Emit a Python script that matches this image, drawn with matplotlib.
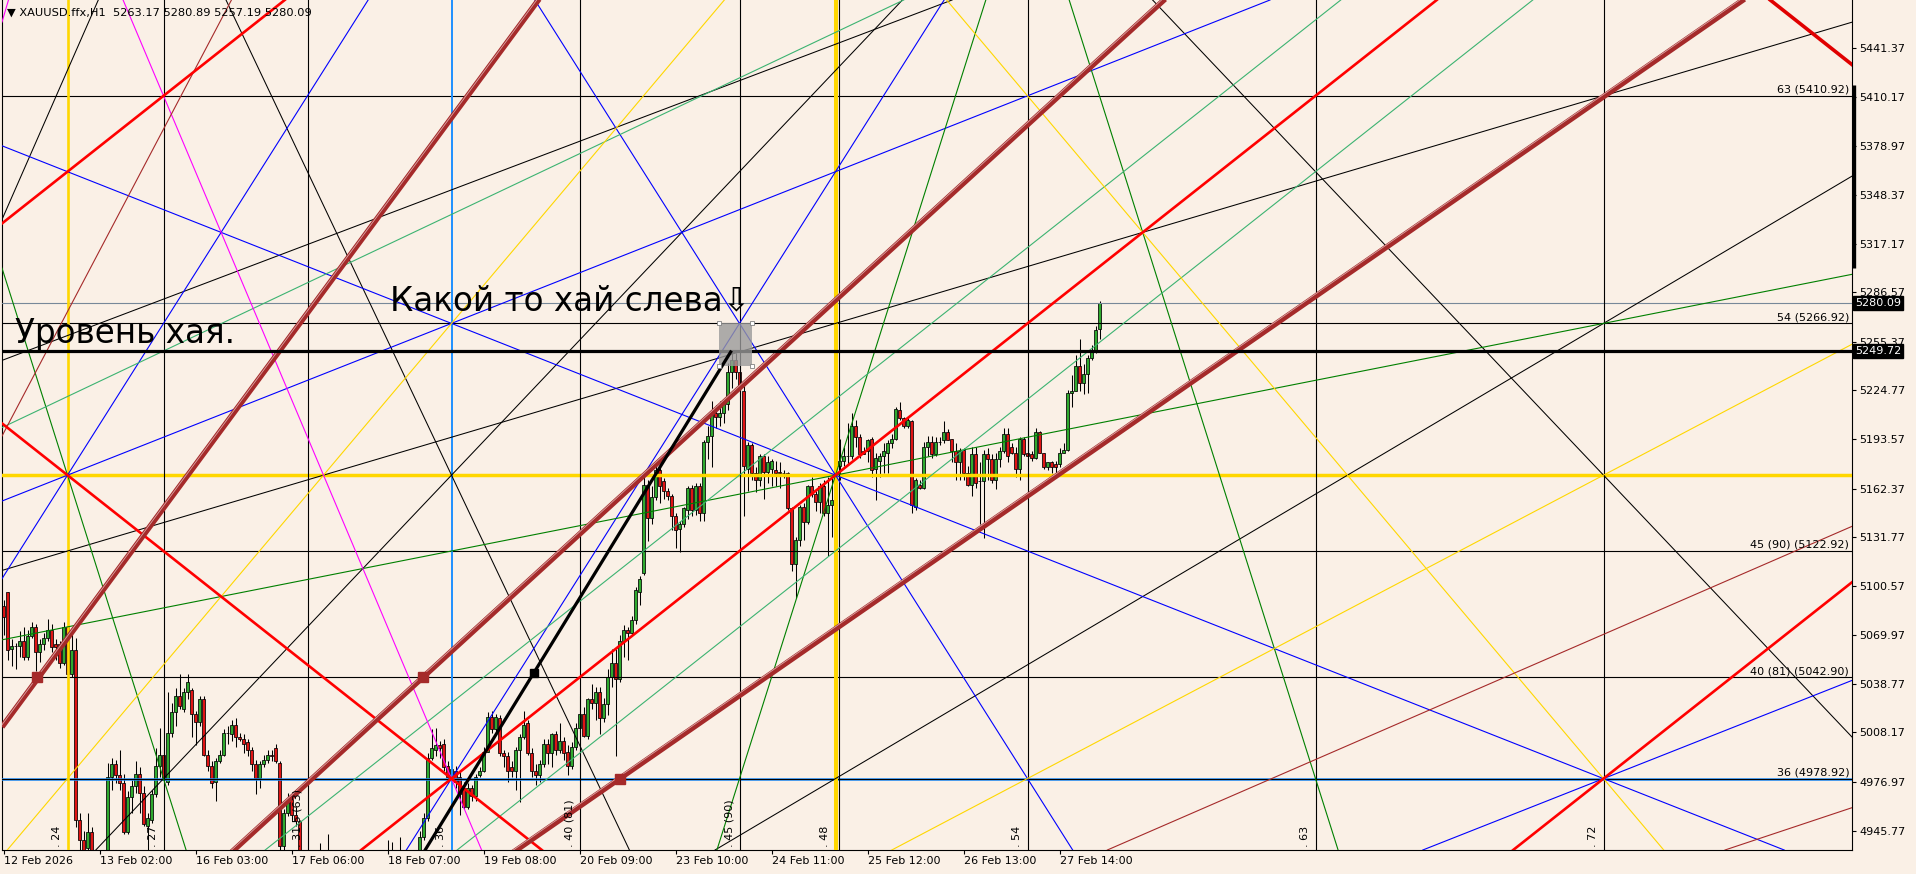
import matplotlib
matplotlib.use("Agg")
import matplotlib.pyplot as plt
from matplotlib.transforms import blended_transform_factory, offset_copy
from matplotlib.patches import Rectangle
import numpy as np

BG = "#FAF0E6"

# ---------------- candle data (H1 bars, index 0 = 12 Feb 2026) ----------------
opens = [
 5088,5097,5061,5063,5063,5066,5056,5069,5075,5059,
 5064,5068,5073,5064,5064,5052,5075,5045,5060,4953,
 4940,4935,4945,4928,4912,4918,4925,4980,4988,4981,
 4976,4945,4967,4974,4982,4970,4949,4953,4969,4987,
 4994,4977,5008,5021,5031,5023,5034,5035,5020,5015,
 5029,4994,4987,4977,4990,4994,5008,5007,5013,5005,
 5004,5002,4997,4988,4979,4988,4991,4994,4998,4989,
 4936,4957,4966,4956,4952,4925,4910,4915,4920,4926,
 4918,4922,4928,4900,4860,4880,4892,4885,4890,4884,
 4880,4889,4900,4908,4904,4916,4920,4925,4918,4922,
 4928,4915,4920,4924,4926,4942,4954,4992,4997,5000,
 5001,4987,4980,4984,4980,4973,4961,4973,4968,4981,
 4984,4996,5018,5010,5017,4995,4993,4986,4984,4997,
 5005,5014,4995,4984,4981,4988,5001,4995,5007,4997,
 5003,4996,4987,4999,5011,5020,5006,5029,5027,5034,
 5017,5026,5043,5052,5042,5066,5073,5071,5079,5097,
 5109,5165,5144,5157,5174,5167,5161,5158,5145,5137,
 5140,5149,5163,5149,5164,5147,5192,5196,5210,5208,
 5210,5216,5236,5244,5236,5224,5175,5190,5172,5168,
 5183,5173,5175,5174,5173,5172,5172,5150,5115,5130,
 5151,5141,5164,5159,5154,5164,5147,5152,5152,5177,
 5180,5183,5183,5202,5195,5186,5186,5194,5175,5180,
 5183,5185,5191,5194,5212,5207,5202,5205,5151,5165,
 5163,5189,5192,5184,5192,5193,5198,5194,5186,5179,
 5187,5172,5165,5184,5167,5167,5184,5181,5168,5181,
 5186,5197,5189,5185,5175,5194,5185,5184,5182,5198,
 5185,5176,5179,5178,5178,5185,5187,5223,5224,5240,
 5229,5235,5245,5250,5263.17]
highs = [
 5092,5097,5067,5065,5072,5075,5073,5078,5077,5067,
 5071,5080,5077,5067,5066,5078,5077,5074,5068,4957,
 4946,4957,4948,4931,4925,4930,4989,4992,4991,4997,
 4982,4971,4978,4990,4986,4974,4957,4972,4998,5011,
 4999,5034,5027,5036,5045,5036,5045,5036,5022,5031,
 5031,4997,4990,4992,4997,5010,5012,5016,5017,5008,
 5007,5004,4999,4991,4990,4994,4997,4997,5001,4990,
 4960,4970,4968,4961,4953,4931,4922,4928,4932,4938,
 4930,4944,4931,4905,4885,4900,4905,4898,4902,4895,
 4893,4905,4912,4918,4922,4928,4940,4939,4930,4942,
 4932,4926,4930,4931,4946,4957,4995,5010,5011,5003,
 5004,4990,4988,4987,4984,4977,4976,4975,4982,4986,
 4999,5021,5022,5020,5019,4997,4996,4990,4999,5007,
 5022,5016,4998,4988,4991,5004,5004,5008,5009,5014,
 5005,5000,5002,5014,5031,5024,5030,5039,5037,5037,
 5030,5048,5061,5061,5070,5076,5075,5082,5100,5107,
 5173,5168,5164,5177,5176,5169,5163,5159,5147,5142,
 5151,5164,5165,5166,5166,5193,5202,5218,5215,5218,
 5218,5242,5249.72,5248,5240,5231,5192,5191,5176,5184,
 5184,5183,5181,5180,5179,5174,5173,5151,5132,5152,
 5153,5165,5170,5161,5166,5168,5170,5169,5190,5194,
 5189,5204,5210,5206,5197,5189,5194,5195,5185,5185,
 5191,5193,5197,5214,5217,5208,5208,5206,5169,5168,
 5192,5196,5196,5195,5195,5205,5200,5194,5191,5188,
 5188,5177,5189,5189,5179,5187,5188,5184,5185,5189,
 5201,5201,5191,5189,5195,5195,5202,5186,5201,5199,
 5185,5179,5180,5180,5188,5191,5225,5234,5247,5257,
 5241,5247,5253,5265,5280.89]
lows = [
 5070,5054,5050,5048,5056,5054,5054,5068,5047,5053,
 5060,5066,5059,5054,5049,5051,5039,5043,4948,4930,
 4915,4925,4915,4905,4898,4910,4918,4972,4976,4972,
 4944,4944,4957,4970,4957,4949,4932,4951,4967,4980,
 4976,4975,5005,5012,5023,5021,5029,5005,5000,5012,
 4993,4984,4973,4965,4989,4993,5001,5003,4999,5003,
 4995,4993,4984,4969,4973,4986,4989,4990,4989,4925,
 4928,4955,4953,4949,4918,4905,4898,4908,4912,4915,
 4905,4915,4895,4841,4850,4872,4878,4872,4880,4870,
 4868,4882,4892,4898,4900,4908,4912,4915,4910,4916,
 4910,4905,4912,4915,4920,4940,4952,4991,4993,4992,
 4984,4977,4975,4973,4956,4960,4960,4965,4965,4980,
 4983,4996,5008,5008,4993,4986,4977,4980,4972,4964,
 5004,4994,4980,4975,4977,4986,4988,4986,4994,4995,
 4991,4981,4985,4997,5008,5005,5004,5023,5016,5007,
 5015,5019,5037,4993,5040,5056,5054,5070,5077,5089,
 5108,5129,5140,5155,5153,5156,5155,5136,5125,5122,
 5138,5143,5145,5146,5142,5142,5181,5176,5201,5202,
 5204,5212,5226,5232,5222,5145,5161,5168,5160,5164,
 5156,5166,5164,5164,5163,5169,5149,5110,5093,5126,
 5130,5140,5157,5148,5147,5145,5120,5132,5147,5168,
 5177,5178,5181,5189,5182,5184,5179,5170,5155,5170,
 5172,5172,5188,5193,5206,5201,5201,5147,5149,5162,
 5162,5183,5182,5183,5190,5191,5193,5179,5168,5168,
 5168,5164,5158,5163,5140,5131,5168,5166,5162,5176,
 5185,5179,5184,5170,5168,5183,5183,5180,5181,5185,
 5175,5174,5172,5169,5176,5185,5186,5214,5224,5224,
 5222,5223,5244,5248,5257.19]
closes = [
 5081,5060,5063,5063,5066,5056,5069,5075,5059,5064,
 5068,5073,5062,5062,5052,5075,5045,5060,4953,4940,
 4925,4945,4928,4912,4918,4925,4980,4988,4981,4976,
 4945,4967,4974,4982,4970,4950,4954,4969,4987,4994,
 4978,5008,5021,5031,5025,5034,5040,5020,5015,5029,
 4994,4987,4976,4990,4994,5008,5008,5013,5005,5004,
 5001,4997,4988,4979,4988,4991,4994,4993,4990,4936,
 4957,4966,4956,4952,4925,4910,4915,4920,4926,4918,
 4922,4928,4900,4860,4880,4892,4885,4890,4884,4880,
 4889,4900,4908,4904,4916,4920,4925,4918,4922,4928,
 4915,4920,4924,4926,4942,4954,4992,4998,5000,4998,
 4986,4980,4985,4977,4969,4961,4973,4968,4980,4984,
 4996,5018,5010,5018,4995,4993,4984,4984,4997,5005,
 5013,4995,4984,4981,4988,5001,4995,5007,4997,5003,
 4995,4987,4999,5011,5020,5006,5029,5027,5034,5017,
 5026,5043,5052,5042,5066,5073,5071,5079,5098,5105,
 5165,5144,5157,5174,5164,5161,5158,5145,5136,5140,
 5150,5163,5149,5164,5147,5192,5196,5210,5208,5210,
 5216,5236,5244,5236,5226,5177,5190,5172,5168,5183,
 5173,5179,5180,5172,5172,5172,5150,5115,5130,5151,
 5141,5164,5159,5154,5164,5147,5152,5155,5177,5180,
 5183,5183,5202,5195,5184,5184,5193,5174,5182,5183,
 5186,5191,5194,5213,5207,5202,5206,5152,5168,5163,
 5189,5192,5184,5192,5192,5198,5193,5186,5179,5186,
 5172,5165,5184,5166,5167,5184,5181,5168,5181,5186,
 5197,5183,5185,5175,5194,5184,5183,5182,5198,5185,
 5176,5179,5176,5176,5185,5187,5223,5224,5240,5229,
 5235,5245,5250,5263,5280.09]

# ---------------- axes labels ----------------
date_tick_bars = [0, 24, 48, 72, 96, 120, 144, 168, 192, 216, 240, 264]
date_labels = ["12 Feb 2026", "13 Feb 02:00", "16 Feb 03:00", "17 Feb 06:00",
               "18 Feb 07:00", "19 Feb 08:00", "20 Feb 09:00", "23 Feb 10:00",
               "24 Feb 11:00", "25 Feb 12:00", "26 Feb 13:00", "27 Feb 14:00"]
price_ticks = [5441.37, 5410.17, 5378.97, 5348.37, 5317.17, 5286.57, 5255.37,
               5224.77, 5193.57, 5162.37, 5131.77, 5100.57, 5069.97, 5038.77,
               5008.17, 4976.97, 4945.77]
header = "\u25BC XAUUSD.ffx,H1  5263.17 5280.89 5257.19 5280.09"

# ---------------- Gann grid objects ----------------
vline_bars = [16, 40, 76, 112, 144, 184, 208, 256, 328, 400]
vline_labels = ["24", "27", "31.5 (63)", "36", "40 (81)", "45 (90)", "48", "54", "63", "72"]
vline_colors = ["#FFD700", "black", "black", "#1E90FF", "black", "black", "#FFD700",
                "black", "black", "black"]
vline_widths = [1.9, 0.8, 0.8, 1.4, 0.8, 0.8, 2.9, 0.8, 0.8, 0.8]

hlevels = [5410.92, 5266.92, 5122.92, 5042.90, 4978.92]
hlevel_labels = ["63 (5410.92)", "54 (5266.92)", "45 (90) (5122.92)",
                 "40 (81) (5042.90)", "36 (4978.92)"]
yellow_level = 5170.92
high_level = 5249.72
bid_price = 5280.09

# diagonal lines: (anchor bar, anchor price, slope in price per bar)
red_lines = [(16, 5362.92, 2.0), (16, 5170.92, -2.0), (208, 5170.92, 2.0),
             (400, 4978.92, 2.0)]
red_top_line = (400, 5554.92, -2.0)
blue_lines = [(112, 5266.92, -1.0), (184, 5266.92, -4.0), (184, 5266.92, 4.0),
              (16, 5170.92, 4.0), (16, 5170.92, 1.0), (400, 4978.92, 1.0)]
black_lines = [(16, 5122.92, 0.75), (208, 4978.92, 1.5), (112, 5170.92, 2.667),
               (112, 5170.92, -5.333), (400, 5170.92, -2.667), (17.1, 5433.5, 5.77),
               (-0.2, 5243.7, 0.96)]
green_lines = [(16, 5170.92, -8.0), (208, 5170.92, 0.5), (208, 5170.92, 8.0),
               (304, 5170.92, -8.0)]
lightgreen_lines = [(208, 5218.92, 2.0), (208, 5122.92, 2.0), (24.6, 5231.0, 1.2)]
yellow_lines = [(16, 4978.92, 3.0), (400, 4978.92, -3.0), (400, 5170.92, 1.333)]
magenta_lines = [(112, 4978.92, -6.0), (0.6, 5466.0, 8.6)]
thinbrown_lines = [(56.6, 5469.7, 4.81), (462.1, 5138.5, 1.1), (462.1, 4960.5, 0.843)]
brown_lines = [(0, 5012.9, 3.43), (104.8, 5042.9, 2.313), (154, 4978.9, 1.754)]
brown_markers_bar = [8.3, 104.8, 154]
brown_markers_price = [5042.9, 5042.9, 4978.9]

trend_bars = [83, 182]
trend_prices = [4841.3, 5249.72]
trend_mid = (132.5, 5045.5)
box_bars = (178.75, 187.0)
box_prices = (5239.7, 5267.5)

FS = 8.0

# ---------------- figure ----------------
fig = plt.figure(figsize=(19.16, 8.74), dpi=100, facecolor=BG)
ax = fig.add_axes([2 / 1916, 24 / 874, 1850 / 1916, 850 / 874])
ax.set_facecolor(BG)
XL = (-0.375, 462.125)
ax.set_xlim(*XL)
ax.set_ylim(4933.75, 5471.55)
for s in ["left", "right", "bottom"]:
    ax.spines[s].set_color("black")
    ax.spines[s].set_linewidth(0.8)
ax.spines["top"].set_visible(False)

ax.yaxis.tick_right()
ax.set_yticks(price_ticks)
ax.set_yticklabels(["%.2f" % p for p in price_ticks])
ax.tick_params(axis="y", direction="out", length=3, width=0.8, labelsize=FS, pad=2,
               colors="black")
ax.set_xticks(date_tick_bars)
ax.set_xticklabels(date_labels)
ax.tick_params(axis="x", direction="out", length=3, width=0.8, labelsize=FS, pad=1.5,
               colors="black")
for lab in ax.get_xticklabels():
    lab.set_horizontalalignment("left")

# candles
o = np.array(opens, float); h = np.array(highs, float)
l = np.array(lows, float); c = np.array(closes, float)
x = np.arange(len(o))
ax.vlines(x, l, h, color="black", lw=0.75, zorder=2)
cols = np.where(c >= o, "#2FAA2F", "#E01414")
ax.bar(x, np.abs(c - o), bottom=np.minimum(o, c), width=0.75, color=cols,
       edgecolor="black", linewidth=0.55, zorder=2.1)

# horizontal levels
for lev, lab in zip(hlevels, hlevel_labels):
    ax.axhline(lev, color="black", lw=0.8, zorder=3)
    ax.annotate(lab, xy=(1, lev), xycoords=("axes fraction", "data"),
                xytext=(-2, 0.8), textcoords="offset points", ha="right", va="bottom",
                fontsize=FS, zorder=6)
ax.axhline(4978.92, color="#1E90FF", lw=1.8, zorder=2.9)
ax.axhline(yellow_level, color="#FFD700", lw=2.5, zorder=3)
ax.axhline(bid_price, color="#778899", lw=0.8, zorder=3)
ax.axhline(high_level, color="black", lw=2.3, zorder=4)

# vertical lines
for b, lab, col, w in zip(vline_bars, vline_labels, vline_colors, vline_widths):
    ax.axvline(b, color=col, lw=w, zorder=3)
    ax.text(b - 2.6, 4935.6, ". " + lab, rotation=90, ha="center", va="bottom",
            fontsize=FS, zorder=6)
ax.axvline(208.75, color="black", lw=0.8, zorder=3.1)

def draw(lines, color, lw, z=3.2):
    for bx, py, s in lines:
        ax.axline((bx, py), slope=s, color=color, lw=lw, zorder=z)

draw(black_lines, "black", 0.75)
draw(blue_lines, "#0000FF", 0.8)
draw(green_lines, "#008000", 0.8)
draw(lightgreen_lines, "#3CB371", 0.8)
draw(yellow_lines, "#FFD700", 0.8)
draw(magenta_lines, "#FF00FF", 0.8)
draw(thinbrown_lines, "#A52A2A", 0.8)
draw(red_lines, "#FF0000", 1.9, 3.5)
draw([red_top_line], "#E00000", 2.6, 3.5)

# thick brown channel lines with a light edge stripe
edge_tr = offset_copy(ax.transData, fig=fig, x=0, y=1.6, units="points")
for bx, py, s in brown_lines:
    xs = np.array(XL)
    ys = py + s * (xs - bx)
    ax.plot(xs, ys, color="#A52A2A", lw=4.0, zorder=3.6, solid_capstyle="butt")
    ax.plot(xs, ys, color="#D9A8A8", lw=0.6, zorder=3.65, transform=edge_tr)
ax.plot(brown_markers_bar, brown_markers_price, ls="none", marker="s", ms=6.5,
        color="#A52A2A", zorder=3.7)

# main trend line with the high box
ax.plot(trend_bars, trend_prices, color="black", lw=2.3, zorder=5,
        solid_capstyle="butt")
ax.plot(*trend_mid, marker="s", ms=6, color="black", zorder=5)
ax.add_patch(Rectangle((box_bars[0], box_prices[0]), box_bars[1] - box_bars[0],
                       box_prices[1] - box_prices[0], fc="#9A9A9A", alpha=0.8,
                       ec="none", zorder=4.5))
ax.plot([box_bars[0], box_bars[1], box_bars[0], box_bars[1]],
        [box_prices[0], box_prices[0], box_prices[1], box_prices[1]], ls="none",
        marker="s", ms=3, mfc="white", mec="#808080", mew=0.6, zorder=5.5)

# annotations
ax.text(2.9, 5254.5, "Уровень хая.", fontsize=23.5, ha="left", va="baseline", zorder=7)
ax.text(96.6, 5275.3, "Какой то хай слева\u21E9", fontsize=23.5, ha="left",
        va="baseline", zorder=7)

# price tags and axis marker
tr = blended_transform_factory(ax.transAxes, ax.transData)
for p in [bid_price, high_level]:
    ax.text(1.0015, p, "%.2f" % p, transform=tr, ha="left", va="center", color="white",
            fontsize=FS, clip_on=False, zorder=8,
            bbox=dict(boxstyle="square,pad=0.18", fc="black", ec="black"))
ax.plot([1.0009, 1.0009], [5417.8, 5302.0], transform=tr, color="black", lw=2.4,
        clip_on=False, solid_capstyle="butt", zorder=8)

fig.text(7 / 1916, 1 - 13 / 874, header, fontsize=8.2, ha="left", va="center", zorder=10)

fig.savefig("out.png", dpi=100, facecolor=BG)
